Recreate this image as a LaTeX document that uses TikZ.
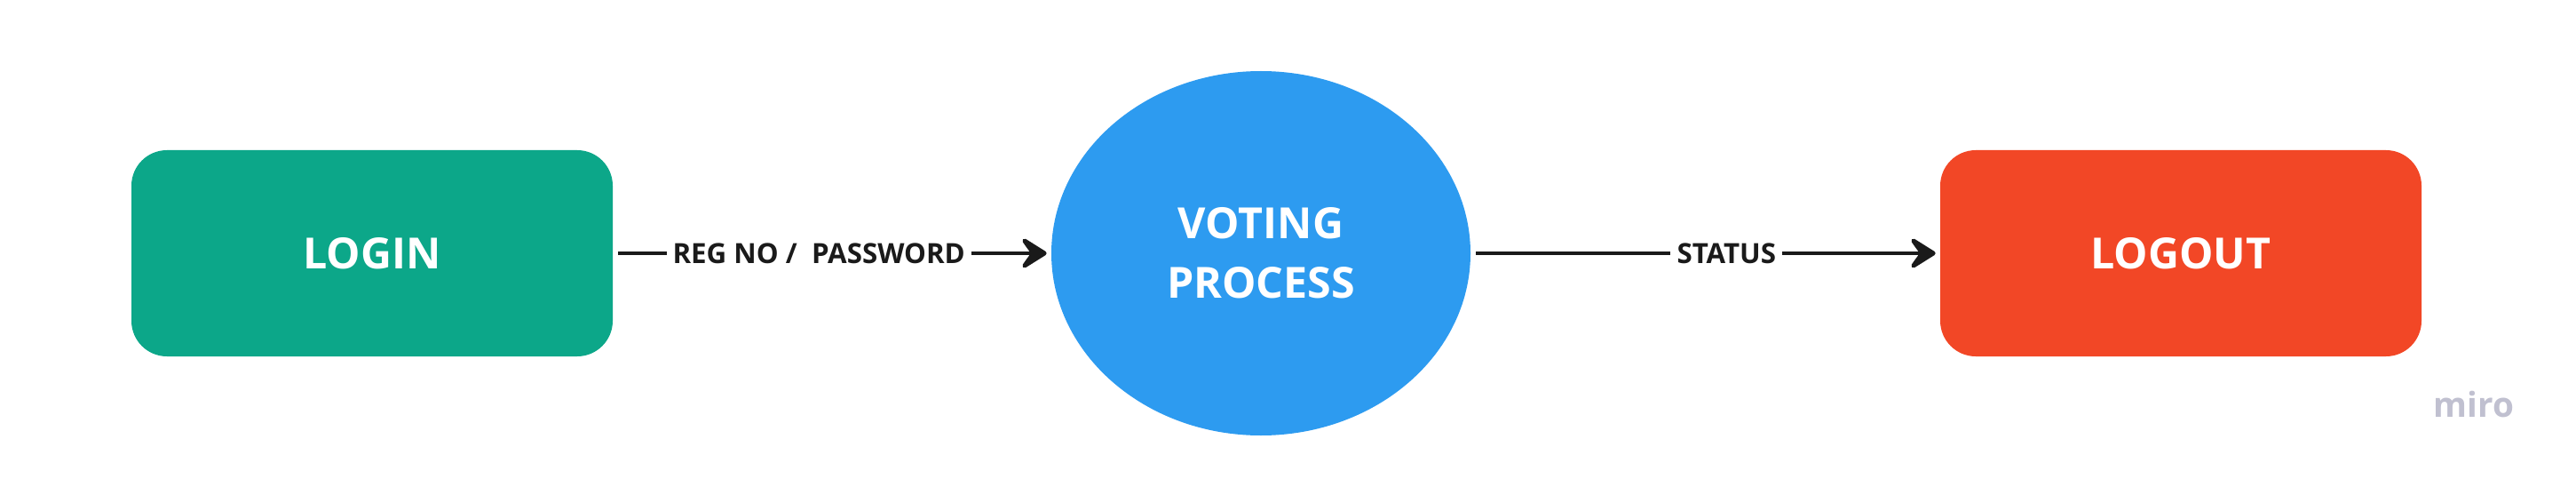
\documentclass[tikz,border=0pt]{standalone}
\usepackage{fontspec}
\setmainfont{Open Sans}
\usetikzlibrary{positioning,arrows.meta,shapes.geometric}
\usepackage{xcolor}
\definecolor{voteGreen}{RGB}{12,167,137}
\definecolor{voteBlue}{RGB}{45,155,240}
\definecolor{voteRed}{RGB}{242,71,38}
\definecolor{voteInk}{RGB}{26,26,26}
\definecolor{voteMuted}{RGB}{192,192,208}

\begin{document}
\begin{tikzpicture}[
      box/.style={rounded corners=0.8cm, minimum width=10.84cm, minimum height=4.64cm,
                  align=center, font=\fontsize{27.5}{38}\selectfont\bfseries\color{white}},
      oval/.style={ellipse, inner sep=0pt, minimum width=9.44cm, minimum height=8.2cm,
                   align=center, font=\fontsize{27.5}{38}\selectfont\bfseries\color{white}},
      lbl/.style={fill=white, inner sep=4pt, font=\fontsize{17.8}{19}\selectfont\bfseries\color{voteInk}},
      arr/.style={-{Stealth[length=0.72cm, width=0.9cm, inset=0.32cm, round]}, voteInk,
                  line width=2.8pt, shorten <=0.12cm, shorten >=0.1cm}
    ]
    \useasboundingbox[fill=white] (0,0) rectangle (58.02,10.76);

    \node[box,fill=voteGreen] (login) at (8.38,5.06) {LOGIN};
    \node[oval,fill=voteBlue] (vote) at (28.4,5.06) {VOTING\\PROCESS};
    \node[box,fill=voteRed] (logout) at (49.12,5.06) {LOGOUT};

    \draw[arr] (login) -- node[lbl,pos=0.47] {REG NO /\ \ PASSWORD} (vote);
    \draw[arr] (vote) -- node[lbl,pos=0.545] {STATUS} (logout);

    \node[font=\fontsize{22}{24}\selectfont\bfseries\color{voteMuted}] (miro) at (55.72,1.66) {miro};
  \end{tikzpicture}
\end{document}
